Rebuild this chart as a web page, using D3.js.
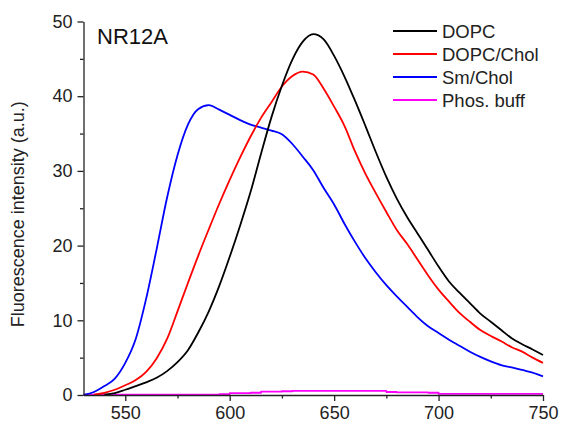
<!DOCTYPE html>
<html>
<head>
<meta charset="utf-8">
<script src="https://cdn.jsdelivr.net/npm/d3@7"></script>
<style>
  html, body { margin: 0; padding: 0; background: #fff; }
  svg { display: block; font-family: "Liberation Sans", Arial, sans-serif; }
</style>
</head>
<body>
<svg id="chart" width="563" height="427"></svg>
<script>
// ---- data ----
const wavelength = [530,535,540,545,550,555,560,565,570,575,580,585,590,595,600,605,610,615,620,625,630,635,640,645,650,655,660,665,670,675,680,685,690,695,700,705,710,715,720,725,730,735,740,745,750];
const dopc      = [0,0,0.05,0.25,0.7,1.2,1.7,2.3,3.2,4.4,6.0,8.4,11.2,14.6,18.5,22.7,27.2,32.3,37.2,41.4,44.9,47.3,48.3,47.6,45.4,42.6,39.4,36.0,32.5,29.2,26.3,23.8,21.6,19.4,17.2,15.2,13.7,12.3,10.9,9.8,8.7,7.6,6.8,6.1,5.35];
const dopcChol  = [0,0.05,0.3,0.7,1.3,2.0,3.1,4.9,7.5,11.2,15.0,18.7,22.2,25.6,28.8,31.8,34.6,37.1,39.2,41.3,42.7,43.3,42.9,41.0,38.6,36.0,32.6,29.6,27.0,24.5,22.1,20.2,18.1,16.0,14.1,12.5,11.0,9.8,8.7,7.9,7.2,6.4,5.8,5.0,4.3];
const smChol    = [0,0.4,1.2,2.2,4.3,7.5,12.9,19.5,26.4,32.1,36.2,38.3,38.8,38.2,37.5,36.8,36.2,35.8,35.4,34.9,33.6,31.9,30.1,27.7,25.5,22.9,20.5,18.3,16.4,14.7,13.2,11.8,10.4,9.2,8.3,7.4,6.6,5.8,5.1,4.5,4.0,3.7,3.35,3.0,2.5];
const phosBuff  = [0.05,0.05,0.05,0.05,0.05,0.05,0.05,0.05,0.05,0.05,0.05,0.05,0.05,0.1,0.25,0.25,0.3,0.45,0.45,0.5,0.55,0.55,0.55,0.55,0.55,0.55,0.55,0.55,0.55,0.4,0.35,0.35,0.35,0.3,0.15,0.15,0.15,0.15,0.15,0.15,0.15,0.15,0.15,0.15,0.15];
const seriesNames = ["DOPC", "DOPC/Chol", "Sm/Chol", "Phos. buff"];
const seriesColors = ["#000000", "#ff0000", "#0000ff", "#ff00ff"];
const xTicks = [550, 600, 650, 700, 750];
const xMinorTicks = [575, 625, 675, 725];
const yTicks = [0, 10, 20, 30, 40, 50];
const yMinorTicks = [5, 15, 25, 35, 45];
const yLabel = "Fluorescence intensity (a.u.)";
const title = "NR12A";

// ---- layout ----
const svg = d3.select("#chart");
const x = d3.scaleLinear().domain([530, 750]).range([83.5, 543]);
const y = d3.scaleLinear().domain([0, 50]).range([395, 21.5]);
const axisColor = "#222";

const series = [dopc, dopcChol, smChol, phosBuff].map((vals, i) => ({
  name: seriesNames[i], color: seriesColors[i],
  points: wavelength.map((w, j) => [w, vals[j]])
}));

// ---- lines ----
const line = d3.line().x(d => x(d[0])).y(d => y(d[1])).curve(d3.curveMonotoneX);
const stepLine = d3.line().x(d => x(d[0])).y(d => y(d[1])).curve(d3.curveStepAfter);
const plot = svg.append("g");
[3, 2, 1, 0].forEach(i => {
  const s = series[i];
  const pts = (i === 0) ? s.points.filter(p => p[0] >= 540)
            : (i === 1) ? s.points.filter(p => p[0] >= 535)
            : s.points;
  plot.append("path")
    .attr("d", (i === 3 ? stepLine : line)(pts))
    .attr("fill", "none")
    .attr("stroke", s.color)
    .attr("stroke-width", 1.8)
    .attr("stroke-linejoin", "round");
});

// ---- axes ----
const fontSize = 18;
svg.append("g").attr("transform", `translate(0,${y(0)})`)
  .call(d3.axisBottom(x).tickValues(xTicks).tickSize(6).tickSizeOuter(0).tickPadding(5).tickFormat(d3.format("d")));
svg.append("g").attr("transform", `translate(0,${y(0)})`)
  .call(d3.axisBottom(x).tickValues(xMinorTicks).tickSize(3.5).tickSizeOuter(0).tickFormat(""))
  .call(g => g.select(".domain").remove());
svg.append("g").attr("transform", `translate(${x(530)},0)`)
  .call(d3.axisLeft(y).tickValues(yTicks).tickSize(6).tickSizeOuter(0).tickPadding(5).tickFormat(d3.format("d")));
svg.append("g").attr("transform", `translate(${x(530)},0)`)
  .call(d3.axisLeft(y).tickValues(yMinorTicks).tickSize(3.5).tickSizeOuter(0).tickFormat(""))
  .call(g => g.select(".domain").remove());

svg.selectAll(".domain, .tick line").attr("stroke", axisColor).attr("stroke-width", 1.3);
svg.selectAll(".tick text")
  .attr("fill", "#222")
  .style("font-size", fontSize + "px")
  .style("font-family", '"Liberation Sans", Arial, sans-serif');

// ---- y label ----
svg.append("text")
  .attr("transform", `translate(24,${(y(0) + y(50)) / 2 + 6}) rotate(-90)`)
  .attr("text-anchor", "middle")
  .attr("fill", "#222")
  .style("font-size", fontSize + "px")
  .text(yLabel);

// ---- title ----
svg.append("text")
  .attr("x", 97).attr("y", 43.5)
  .attr("fill", "#111")
  .style("font-size", "22px")
  .text(title);

// ---- legend ----
const legendY = [31, 54, 77, 100];
const legend = svg.append("g");
series.forEach((s, i) => {
  legend.append("line")
    .attr("x1", 393).attr("x2", 437)
    .attr("y1", legendY[i]).attr("y2", legendY[i])
    .attr("stroke", s.color).attr("stroke-width", 2);
  legend.append("text")
    .attr("x", 442).attr("y", legendY[i])
    .attr("dy", "0.36em")
    .attr("fill", "#222")
    .style("font-size", "18.5px")
    .text(s.name);
});
</script>
</body>
</html>
